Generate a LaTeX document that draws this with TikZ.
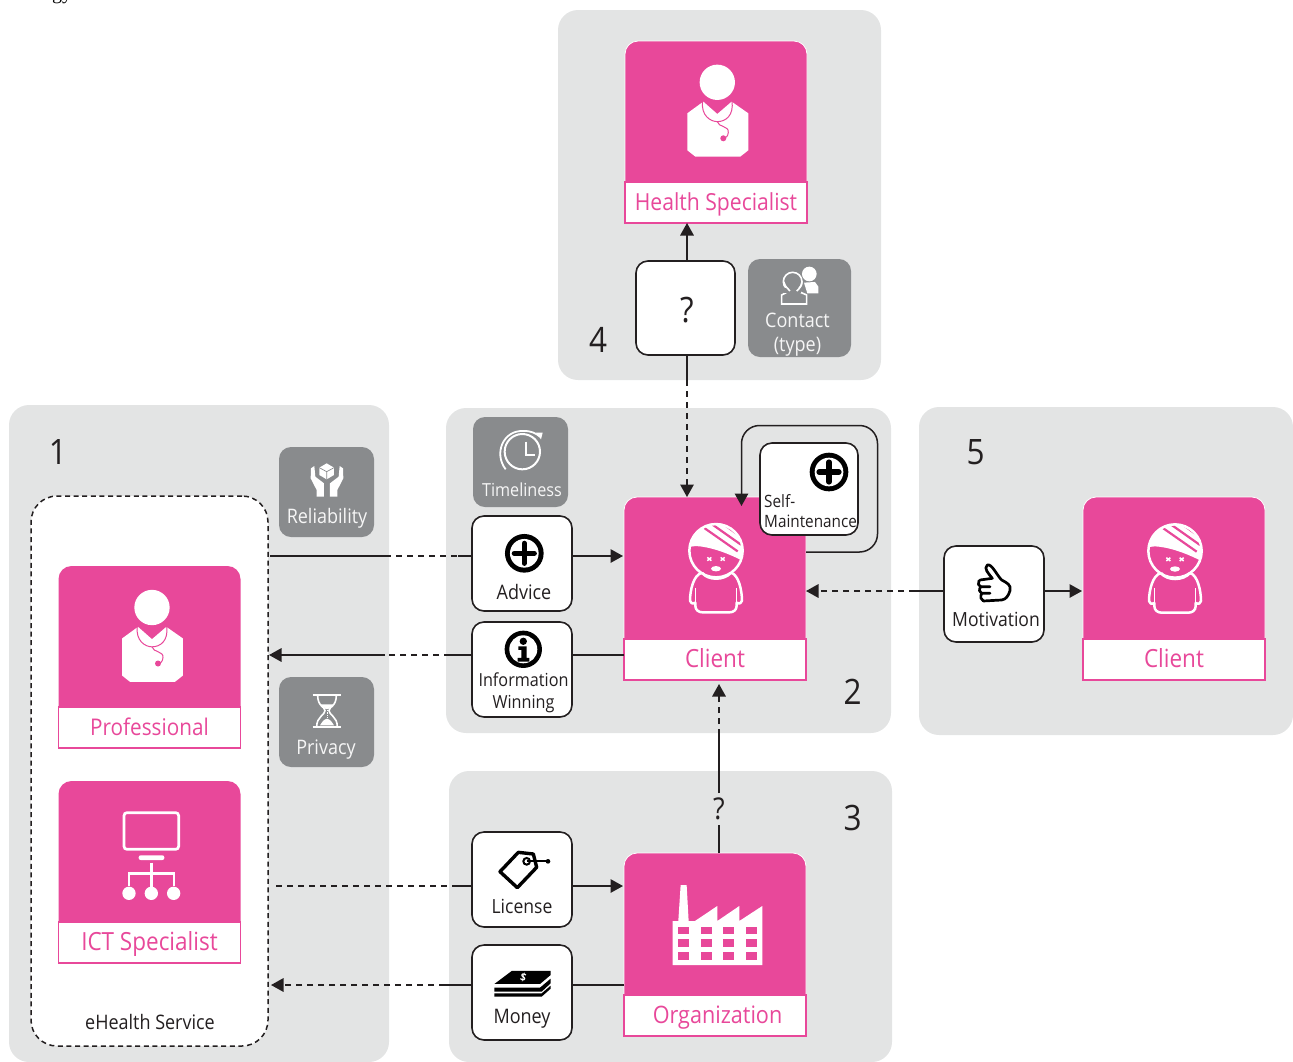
\documentclass[tikz,border=0pt]{standalone}
\usepackage{fontspec}
\setmainfont{Open Sans}[FakeStretch=0.9]
\newfontfamily\serifgy{Liberation Serif}
\usetikzlibrary{arrows.meta,calc}
\definecolor{pinkc}{HTML}{E8489A}
\definecolor{panelc}{HTML}{E3E4E4}
\definecolor{tilec}{HTML}{898B8D}
\definecolor{darkc}{HTML}{231F20}
\newcommand{\fs}[1]{\fontsize{#1}{#1}\selectfont}
\tikzset{
  z/.style 2 args={shift={(#1,#2)},x=.3333pt,y=-.3333pt},
  box/.style={inner sep=0pt,outer sep=0pt,rectangle},
  panel/.style={box,fill=panelc,rounded corners=20pt},
  tile/.style={box,fill=tilec,rounded corners=12pt},
  tiletext/.style={inner sep=0pt,text=white!92!tilec,font=\fs{20}},
  pinkcard/.style={box,fill=pinkc,draw=white,line width=.8pt,rounded corners=13pt,minimum width=182pt,minimum height=182pt},
  cardlabel/.style={box,fill=white,draw=pinkc,line width=1.4pt,text=pinkc,font=\fs{25},minimum width=182pt,minimum height=41pt,text height=20pt,text depth=5pt},
  whitebox/.style={box,fill=white,draw=darkc,line width=1.6pt,rounded corners=12pt},
  boxtext/.style={inner sep=0pt,text=darkc,font=\fs{20}},
  numtext/.style={inner sep=0pt,text=darkc,font=\fs{35}},
  conn/.style={draw=darkc,line width=1.5pt},
  dashconn/.style={draw=darkc,line width=1.5pt,dash pattern=on 6pt off 5pt},
  arrowend/.style={-{Triangle[length=12.5pt,width=13.5pt]}},
}
\newcommand{\doctor}[2]{\begin{scope}[z={#1}{#2}]
  \fill[white] (0,0) circle (53);
  \fill[white] (-90,93) -- (-90,204) -- (-66,223) -- (69,223) -- (93,204) -- (93,93) -- (43,58) -- (0,95) -- (-42,58) -- cycle;
  \draw[pinkc,line width=1pt] (-44,56) .. controls (-50,100) and (-20,118) .. (0,118) .. controls (25,118) and (50,100) .. (44,56);
  \draw[pinkc,line width=1pt] (0,118) .. controls (3,135) and (35,130) .. (33,150) .. controls (32,163) and (25,168) .. (18,168);
  \fill[pinkc] (18,168) circle (9);
\end{scope}}
\newcommand{\patient}[2]{\begin{scope}[z={#1}{#2}]
  \begin{scope}
    \clip (0,0) circle (82);
    \fill[white] (-95,-10) -- (-60,-14) .. controls (-20,-12) and (30,5) .. (75,28) -- (100,30) -- (100,-100) -- (-100,-100) -- cycle;
    \draw[pinkc,line width=2.2pt] (-35,-68) -- (65,2) (-10,-78) -- (75,-18) (25,-78) -- (80,-38);
  \end{scope}
  \draw[white,line width=2.5pt] (0,0) circle (80);
  \draw[white,line width=1.5pt] (-26,20) -- (-14,30) (-14,20) -- (-26,30) (14,20) -- (26,30) (26,20) -- (14,30);
  \fill[white] (0,54) ellipse (15 and 8);
  \draw[white,line width=2.5pt,line join=round] (-42,66) .. controls (-25,90) and (25,90) .. (45,66);
  \draw[white,line width=2.5pt,line join=round] (-42,66) .. controls (-68,72) and (-78,120) .. (-78,150) .. controls (-78,158) and (-70,160) .. (-62,156) -- (-62,165) .. controls (-62,178) and (-52,185) .. (-40,185) -- (40,185) .. controls (52,185) and (62,178) .. (62,165) -- (62,156) .. controls (70,160) and (78,158) .. (78,150) .. controls (78,120) and (68,72) .. (45,66);
  \draw[white,line width=1.3pt] (-62,112) -- (-62,156) (62,112) -- (62,156);
\end{scope}}
\newcommand{\plusbadge}[2]{\begin{scope}[z={#1}{#2}]
  \fill[black] (0,0) circle (58);
  \fill[white] (0,0) circle (43);
  \draw[black,line width=5.2pt,line cap=round] (-30,0) -- (30,0) (0,-30) -- (0,30);
\end{scope}}
\begin{document}
\begin{tikzpicture}[x=1pt,y=-1pt]
\useasboundingbox (0,0) rectangle (1293,1061);
\clip (0,0) rectangle (1293,1061);
\node[inner sep=0pt,anchor=base west,text=black,font=\serifgy\fs{20}] (frag) at (52,-1) {gy};

% panels
\node[panel,minimum width=323pt,minimum height=370pt] (p4) at (719.5,195) {};
\node[panel,minimum width=380pt,minimum height=657pt] (p1) at (199,733.5) {};
\node[panel,minimum width=445pt,minimum height=325pt] (p2) at (668.5,570.5) {};
\node[panel,minimum width=443pt,minimum height=291pt] (p3) at (670.5,916.5) {};
\node[panel,minimum width=374pt,minimum height=328pt] (p5) at (1106,571) {};

% numbers
\node[numtext] (n1) at (58,452) {1};
\node[numtext] (n2) at (852.5,692) {2};
\node[numtext] (n3) at (852.5,818) {3};
\node[numtext] (n4) at (598,340) {4};
\node[numtext] (n5) at (975.5,452) {5};

% service container
\node[box,fill=white,draw=darkc,line width=1.5pt,dash pattern=on 5pt off 3.6pt,rounded corners=26pt,minimum width=237pt,minimum height=550pt] (service) at (149.5,771) {};
\node[boxtext] (servicet) at (150,1022) {eHealth Service};

% coordinates for the connector levels
\coordinate (yA) at (0,556);
\coordinate (yI) at (0,655);
\coordinate (yL) at (0,886);
\coordinate (yM) at (0,985);
\coordinate (yV) at (0,591);
\coordinate (xQ) at (687,0);
\coordinate (xO) at (719,0);

% cards
\node[pinkcard] (health) at (716,132) {};
\node[cardlabel,font=\fs{23.5}] (healthl) at (716,202.5) {Health Specialist};
\node[pinkcard] (client) at (715,588) {};
\node[cardlabel] (clientl) at (715,659.5) {Client};
\node[pinkcard] (org) at (715,944) {};
\node[cardlabel,font=\fs{24}] (orgl) at (715,1015.5) {\hspace*{5pt}Organization};
\node[pinkcard] (clientb) at (1174,588) {};
\node[cardlabel] (clientbl) at (1174,659.5) {Client};
\node[pinkcard,draw=none] (prof) at (149.5,657) {};
\node[cardlabel,font=\fs{23}] (profl) at (149.5,727.5) {Professional};
\node[pinkcard,draw=none] (ict) at (149.5,872) {};
\node[cardlabel] (ictl) at (149.5,942.5) {ICT Specialist};

% connectors
\draw[conn,arrowend] (687,261) -- (healthl.south -| xQ);
\draw[conn] (687,355) -- (687,380);
\draw[dashconn,arrowend] (687,380) -- (client.north -| xQ);
% professional -> advice -> client
\coordinate (a1) at (385,556);
\coordinate (a2) at (458,556);
\draw[conn] ($(service.east |- yA)+(2,0)$) -- (a1);
\draw[dashconn] (a1) -- (a2);
\draw[conn] (a2) -- (472,556);
\draw[conn,arrowend] (572,556) -- (623,556);
% client -> information -> professional
\coordinate (b1) at (450,655);
\coordinate (b2) at (385,655);
\draw[conn] (client.west |- yI) -- (572,655);
\draw[conn] (472,655) -- (b1);
\draw[dashconn] (b1) -- (b2);
\draw[conn,arrowend] (b2) -- ($(service.east |- yI)+(1,0)$);
% ict -> license -> org
\coordinate (c1) at (452,886);
\draw[dashconn] ($(service.east |- yL)+(8,0)$) -- (c1);
\draw[conn] (c1) -- (472,886);
\draw[conn,arrowend] (572,886) -- (623,886);
% org -> money -> ict
\coordinate (d1) at (445,985);
\draw[conn] (org.west |- yM) -- (572,985);
\draw[conn] (472,985) -- (d1);
\draw[dashconn,arrowend] (d1) -- ($(service.east |- yM)+(3,0)$);
% org -> client
\coordinate (e1) at (719,825);
\coordinate (e2) at (719,793);
\coordinate (e3) at (719,735);
\draw[conn] (org.north -| xO) -- (e1);
\draw[conn] (e2) -- (e3);
\draw[dashconn,arrowend] (e3) -- ($(clientl.south -| xO)+(0,4)$);
\node[boxtext,font=\fs{30}] (orgq) at (719,809) {?};
% motivation
\coordinate (f1) at (915,591);
\draw[conn] (944,591) -- (f1);
\draw[dashconn,arrowend] (f1) -- (client.east |- yV);
\draw[conn,arrowend] (1044,591) -- (1082,591);
% self loop
\draw[conn,arrowend,rounded corners=18pt] (client.east |- 0,552) -- (877.5,552) -- (877.5,425.5) -- (741.5,425.5) -- (741.5,506);

% boxes
\node[whitebox,minimum width=99pt,minimum height=94pt] (q) at (685.5,308) {};
\node[boxtext,font=\fs{35}] (qt) at (687,310) {?};
\node[whitebox,minimum width=100pt,minimum height=95pt] (advice) at (522,563.5) {};
\node[boxtext] (advicet) at (524,592) {Advice};
\plusbadge{524.3}{553.3}
\node[whitebox,minimum width=100pt,minimum height=95pt] (info) at (522,669.5) {};
\node[boxtext,font=\fs{18},align=center] (infot) at (523.5,693) {Information\\[4pt]Winning};
\begin{scope}[z={523.3}{649.3}]
  \fill[black] (0,0) circle (56);
  \fill[white] (0,0) circle (42);
  \fill[black] (0,-24) circle (11);
  \fill[black] (-15,-9) -- (10,-9) -- (10,26) -- (18,26) -- (18,37) -- (-17,37) -- (-17,26) -- (-6,26) -- (-6,2) -- (-15,2) -- cycle;
\end{scope}
\node[whitebox,minimum width=100pt,minimum height=95pt] (license) at (522,879.5) {};
\node[boxtext,font=\fs{19.5}] (licenset) at (522,906) {License};
\begin{scope}[z={460}{820}]
  \draw[black,line width=3.4pt,line join=round] (120,155) -- (175,97) -- (220,102) -- (230,142) -- (172,203) -- cycle;
  \draw[black,line width=2pt] (200,124) circle (10);
  \draw[black,line width=2pt] (200,124) -- (262,124);
  \fill[black] (264,124) circle (7);
\end{scope}
\node[whitebox,minimum width=100pt,minimum height=95pt] (money) at (522,992.5) {};
\node[boxtext] (moneyt) at (522,1019) {Money};
\begin{scope}[z={460}{820}]
  \fill[black] (103,492) -- (155,453) -- (272,453) -- (272,465) -- (240,492) -- cycle;
  \fill[black] (103,503) -- (240,503) -- (272,476) -- (272,490) -- (245,515) -- (103,515) -- cycle;
  \fill[black] (103,520) -- (245,520) -- (272,497) -- (272,506) -- (245,530) -- (103,530) -- cycle;
  \node[inner sep=0pt,text=white,font=\bfseries\fs{11},rotate=-15] (moneys) at (190,473) {\$};
\end{scope}
\node[whitebox,minimum width=100pt,minimum height=96pt] (motiv) at (994,594) {};
\node[boxtext,font=\fs{19.5}] (motivt) at (996,619) {Motivation};
\begin{scope}[z={930}{490},line join=round,line cap=round]
  \draw[black,line width=2.7pt] (150,270) -- (187,265) .. controls (175,250) and (160,235) .. (172,225) .. controls (185,220) and (200,255) .. (215,270) .. controls (230,278) and (245,285) .. (240,302) .. controls (235,318) and (228,328) .. (215,330) -- (160,333);
  \draw[black,line width=2.7pt] (147,272) .. controls (143,280) and (145,288) .. (152,290) -- (180,290);
  \draw[black,line width=2.7pt] (152,290) .. controls (146,298) and (148,308) .. (155,310) -- (180,310);
  \draw[black,line width=2.7pt] (155,310) .. controls (150,320) and (152,330) .. (160,333);
\end{scope}
\node[whitebox,minimum width=98pt,minimum height=92pt] (self) at (809,489) {};
\node[boxtext,font=\fs{17},align=left,anchor=west] (selft) at (764,511.5) {Self-\\[3pt]Maintenance};
\plusbadge{829}{472}

% tiles
\node[tile,minimum width=103pt,minimum height=98pt] (contact) at (799.5,308) {};
\node[tiletext,align=center] (contactt) at (797.5,334.5) {Contact\\[4.5pt](type)};
\begin{scope}[z={600}{20}]
  \fill[white] (628,762) circle (22);
  \fill[white] (612,788) -- (645,786) -- (655,800) -- (655,820) -- (622,820) -- cycle;
  \draw[tilec,line width=2.6pt] (578,785) circle (28);
  \draw[white,line width=1.6pt] (578,785) circle (28);
  \draw[white,line width=1.6pt,fill=tilec] (545,852) -- (545,825) -- (570,812) -- (590,812) -- (620,825) -- (620,852) -- cycle;
  \fill[tilec] (552,805) rectangle (604,818);
  \draw[white,line width=1.6pt] (570,813) .. controls (558,800) and (552,795) .. (551,785);
  \draw[white,line width=1.6pt] (590,813) .. controls (600,805) and (606,795) .. (606,785);
\end{scope}
\node[tile,minimum width=95pt,minimum height=90pt] (time) at (520.5,462) {};
\node[tiletext,font=\fs{18}] (timet) at (522,490) {Timeliness};
\begin{scope}[z={460}{410}]
  \draw[white,line width=2pt] (187,125) circle (53);
  \draw[white,line width=2pt] (197,95) -- (197,135) -- (225,135);
  \draw[white,line width=1.8pt] (137,178) .. controls (100,130) and (130,60) .. (190,63) .. controls (213,62) and (228,70) .. (240,80);
  \fill[white] (228,68) -- (248,68) -- (243,88) -- cycle;
\end{scope}
\node[tile,minimum width=95pt,minimum height=90pt] (rel) at (326.5,492) {};
\node[tiletext] (relt) at (327,518) {Reliability};
\begin{scope}[z={270}{440}]
  \fill[white] (170,70) -- (192,83) -- (192,105) -- (170,118) -- (148,105) -- (148,83) -- cycle;
  \draw[tilec,line width=.7pt] (148,83) -- (170,95) -- (192,83) (170,95) -- (170,118);
  \fill[white] (123,85) -- (133,78) -- (136,110) -- (162,130) -- (162,170) -- (140,170) -- (140,150) -- (122,115) -- cycle;
  \fill[white] (219,85) -- (209,78) -- (206,110) -- (180,130) -- (180,170) -- (202,170) -- (202,150) -- (220,115) -- cycle;
\end{scope}
\node[tile,minimum width=95pt,minimum height=90pt] (priv) at (326.5,722) {};
\node[tiletext] (privt) at (326,750) {Privacy};
\begin{scope}[z={270}{670}]
  \draw[white,line width=2pt] (128,75) -- (213,75) (128,170) -- (213,170);
  \draw[white,line width=1.6pt] (143,76) .. controls (143,110) and (165,110) .. (165,122) .. controls (165,135) and (140,140) .. (140,170);
  \draw[white,line width=1.6pt] (199,76) .. controls (199,110) and (177,110) .. (177,122) .. controls (177,135) and (202,140) .. (202,170);
  \fill[white] (152,103) -- (190,103) -- (175,117) -- (167,117) -- cycle;
  \fill[white] (150,166) .. controls (160,150) and (165,146) .. (171,146) .. controls (177,146) and (182,150) .. (192,166) -- cycle;
  \draw[white,line width=.7pt,dash pattern=on 1.2pt off 1.2pt] (171,120) -- (171,146);
\end{scope}

% card icons
\doctor{717.3}{82.3}
\doctor{152}{607.5}
\patient{716}{550.7}
\patient{1175}{551}
\begin{scope}[z={460}{820}]
  \fill[white] (662,195) -- (680,195) -- (686,303) -- (655,303) -- cycle;
  \fill[white] (638,435) -- (638,303) -- (705,303) -- (772,258) -- (772,303) -- (838,258) -- (838,303) -- (907,258) -- (907,435) -- cycle;
  \foreach \yy in {320,358,397} \foreach \xx in {655,722,790,857}
    \fill[pinkc] (\xx,\yy) rectangle ++(33,22);
\end{scope}
\begin{scope}[z={40}{770}]
  \draw[white,line width=2.7pt,rounded corners=3pt] (252,128) rectangle (416,238);
  \fill[white,rounded corners=2pt] (296,270) -- (296,256) -- (373,256) -- (373,270) -- cycle;
  \draw[white,line width=2.7pt] (334,278) -- (334,350) (267,348) -- (267,310) -- (402,310) -- (402,348);
  \foreach \xx in {267,334,401} \fill[white] (\xx,370) circle (20);
\end{scope}
\end{tikzpicture}
\end{document}
